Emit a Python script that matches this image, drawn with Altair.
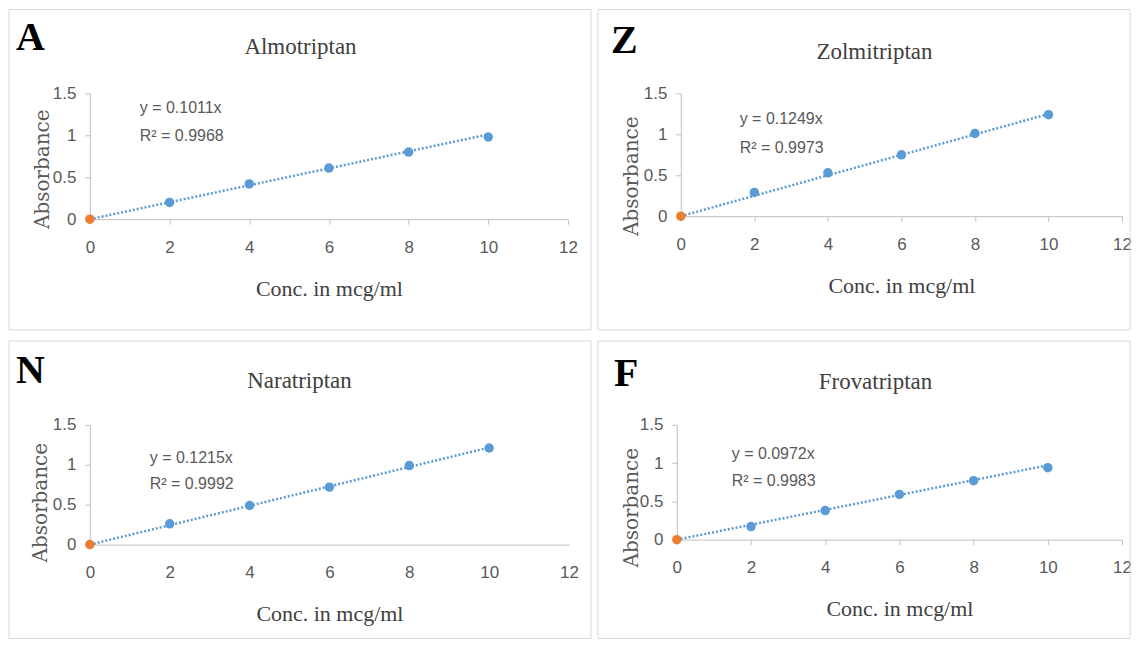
import altair as alt
import pandas as pd

# ---- data ----
conc = [0, 2, 4, 6, 8, 10]
letters = ["A", "Z", "N", "F"]
drugs = ["Almotriptan", "Zolmitriptan", "Naratriptan", "Frovatriptan"]
abs_almo = [0, 0.20, 0.42, 0.61, 0.80, 0.98]
abs_zolmi = [0, 0.29, 0.53, 0.75, 1.01, 1.24]
abs_nara = [0, 0.26, 0.49, 0.72, 0.99, 1.21]
abs_frova = [0, 0.17, 0.38, 0.59, 0.77, 0.94]
slopes = [0.1011, 0.1249, 0.1215, 0.0972]
r2 = [0.9968, 0.9973, 0.9992, 0.9983]
x_ticks = [0, 2, 4, 6, 8, 10, 12]
y_ticks = [0, 0.5, 1, 1.5]
series = [abs_almo, abs_zolmi, abs_nara, abs_frova]

# ---- layout / style (pixels relative to each plot area) ----
layouts = [
    dict(w=479, h=126, b=(-81, 502, -84, 237), let=(-74, -43.5), tit=(211, -39.5),
         eq=(50, 14.5, 42.5), yt=(-41, 75.5), ticks=True),
    dict(w=442, h=123, b=(-83, 450, -84, 237), let=(-70, -40.5), tit=(194, -34.5),
         eq=(59, 25.5, 54.5), yt=(-43, 82.5), ticks=True),
    dict(w=480, h=120, b=(-81, 502, -84, 214), let=(-74, -41.5), tit=(210, -36.5),
         eq=(60, 33.5, 59.5), yt=(-43, 77.5), ticks=False),
    dict(w=446, h=115, b=(-79, 454, -84, 214), let=(-63, -38.5), tit=(199, -35.5),
         eq=(55, 29.5, 56.5), yt=(-39, 82.5), ticks=True),
]

BLUE = "#5B9BD5"
ORANGE = "#ED7D31"
AXIS_GREY = "#BFBFBF"
TEXT_GREY = "#595959"
SERIF = "Liberation Serif"
SANS = "Liberation Sans"

one = pd.DataFrame({"k": [0]})


def panel(i):
    L = layouts[i]
    df = pd.DataFrame({
        "conc": conc,
        "abs": series[i],
        "grp": ["blank"] + ["std"] * (len(conc) - 1),
    })
    trend = pd.DataFrame({"conc": [0, 10], "abs": [0, slopes[i] * 10]})

    xs = alt.Scale(domain=[0, 12], nice=False, zero=False)
    ys = alt.Scale(domain=[0, 1.5], nice=False)
    xax = alt.Axis(values=x_ticks, title="Conc. in mcg/ml", grid=False,
                   domainColor=AXIS_GREY, tickColor=AXIS_GREY, tickSize=5,
                   ticks=L["ticks"],
                   labelFont=SANS, labelFontSize=17, labelColor=TEXT_GREY,
                   labelPadding=23 if L["ticks"] else 28, labelBaseline="middle",
                   labelFlush=False,
                   titleFont=SERIF, titleFontSize=22, titleFontWeight="normal",
                   titleColor="#404040", titleBaseline="alphabetic", titleY=76)
    yax = alt.Axis(values=y_ticks, format="~g", title="Absorbance", grid=False,
                   domainColor=AXIS_GREY, tickColor=AXIS_GREY, tickSize=5,
                   labelFont=SANS, labelFontSize=17, labelColor=TEXT_GREY,
                   labelPadding=9, labelFlush=False,
                   titleFont="DejaVu Serif", titleFontSize=20,
                   titleFontWeight="normal", titleColor=TEXT_GREY,
                   titleAngle=270, titleBaseline="alphabetic", titleAlign="center",
                   titleX=L["yt"][0], titleY=L["yt"][1])

    bx1, bx2, by1, by2 = L["b"]
    border = alt.Chart(one).mark_rect(fillOpacity=0, stroke="#D9D9D9",
                                      strokeWidth=1).encode(
        x=alt.value(bx1), x2=alt.value(bx2), y=alt.value(by1), y2=alt.value(by2))

    line = alt.Chart(trend).mark_line(color=BLUE, strokeWidth=2.5,
                                      strokeDash=[2, 2], clip=False).encode(
        x=alt.X("conc:Q", scale=xs, axis=xax),
        y=alt.Y("abs:Q", scale=ys, axis=yax))

    pts = alt.Chart(df).mark_circle(size=90, opacity=1, clip=False).encode(
        x=alt.X("conc:Q", scale=xs, axis=xax),
        y=alt.Y("abs:Q", scale=ys, axis=yax),
        color=alt.Color("grp:N", scale=alt.Scale(domain=["std", "blank"],
                                                 range=[BLUE, ORANGE]),
                        legend=None))

    letter = alt.Chart(one).mark_text(text=letters[i], font=SERIF, fontSize=40,
                                      fontWeight="bold", color="black",
                                      align="left", baseline="alphabetic").encode(
        x=alt.value(L["let"][0]), y=alt.value(L["let"][1]))

    title = alt.Chart(one).mark_text(text=drugs[i], font=SERIF, fontSize=23,
                                     color="#404040", align="center",
                                     baseline="alphabetic").encode(
        x=alt.value(L["tit"][0]), y=alt.value(L["tit"][1]))

    eq1 = alt.Chart(one).mark_text(text=f"y = {slopes[i]}x", font=SANS,
                                   fontSize=16, color=TEXT_GREY, align="left",
                                   baseline="middle").encode(
        x=alt.value(L["eq"][0]), y=alt.value(L["eq"][1]))
    eq2 = alt.Chart(one).mark_text(text=f"R² = {r2[i]}", font=SANS,
                                   fontSize=16, color=TEXT_GREY, align="left",
                                   baseline="middle").encode(
        x=alt.value(L["eq"][0]), y=alt.value(L["eq"][2]))

    return alt.layer(border, line, pts, letter, title, eq1, eq2).properties(
        width=L["w"], height=L["h"])


row1 = alt.hconcat(panel(0), panel(1), spacing=5)
row2 = alt.hconcat(panel(2), panel(3), spacing=5)
chart = alt.vconcat(row1, row2, spacing=9).properties(
    padding={"left": 0, "top": 0, "right": 0, "bottom": 0},
    background="white",
).configure_view(strokeWidth=0)

chart.save("out.html", embed_options={"renderer": "svg", "actions": False})
